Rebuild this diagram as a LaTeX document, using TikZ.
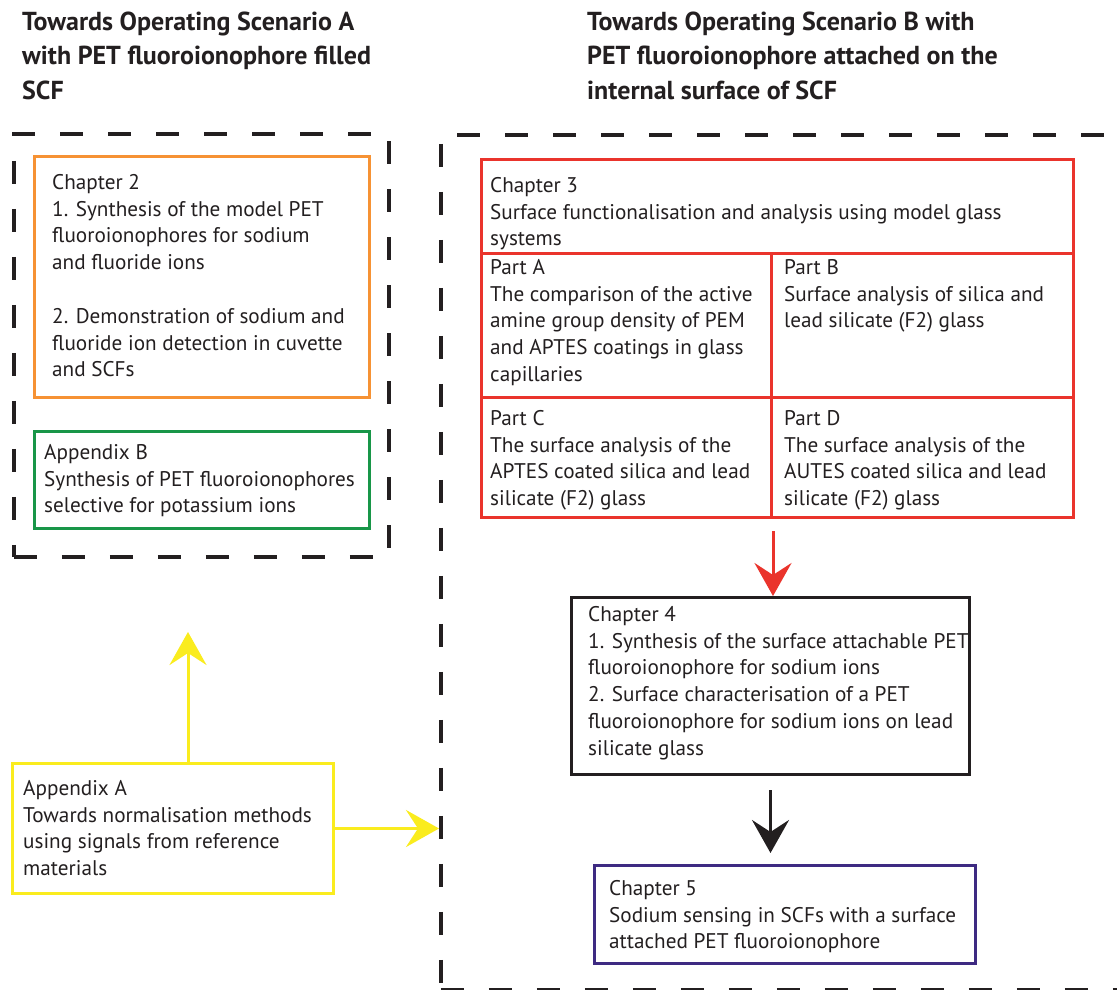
\documentclass[tikz,border=0pt]{standalone}
\usepackage{fontspec}
\setmainfont{PT Sans}
\usetikzlibrary{arrows.meta}
\definecolor{chorange}{RGB}{246,146,52}
\definecolor{chgreen}{RGB}{24,150,72}
\definecolor{chred}{RGB}{234,52,44}
\definecolor{chyellow}{RGB}{250,236,30}
\definecolor{chpurple}{RGB}{62,42,130}
\definecolor{ink}{RGB}{35,31,32}
\begin{document}
\begin{tikzpicture}[x=1pt, y=-1pt,
    frame/.style={draw=ink, line width=3.5pt, dash pattern=on 23pt off 25pt, anchor=north west, inner sep=0pt},
    box/.style={draw, line width=3pt, anchor=north west, inner sep=0pt},
    txt/.style={anchor=north west, yshift=16pt, align=left, inner sep=0pt, text=ink,
        font=\fontsize{21.2}{26.8}\selectfont, execute at begin node=\strut},
    head/.style={anchor=north west, yshift=21.5pt, align=left, inner sep=0pt, text=ink,
        font=\fontsize{26}{34.5}\selectfont\bfseries, execute at begin node=\strut},
    flow/.style={line width=3pt, -{Stealth[length=33pt, width=37pt, inset=12pt]}}
]
    \useasboundingbox[fill=white] (0,0) rectangle (1117,990);

    % Headings of the two scenarios
    \node[head] (headA) at (22,33) {Towards Operating Scenario A\\with PET fluoroionophore filled\\SCF};
    \node[head] (headB) at (587,33) {Towards Operating Scenario B with\\PET fluoroionophore attached on the\\internal surface of SCF};

    % Dashed frames
    \node[frame, minimum width=375pt, minimum height=423pt] (frameA) at (12,132) {};
    \node[frame, minimum width=720pt, minimum height=855pt] (frameB) at (439,133) {};

    % Scenario A
    \node[box, chorange, minimum width=335pt, minimum height=241pt] (ch2) at (33,155) {};
    \node[txt] (ch2txt) at (52,190) {Chapter 2\\1. Synthesis of the model PET\\fluoroionophores for sodium\\and fluoride ions\\[26.8pt]2. Demonstration of sodium and\\fluoride ion detection in cuvette\\and SCFs};
    \node[box, chgreen, minimum width=335pt, minimum height=97pt] (appB) at (33,430) {};
    \node[txt] (appBtxt) at (44,460) {Appendix B\\Synthesis of PET fluoroionophores\\selective for potassium ions};

    % Appendix A
    \node[box, chyellow, minimum width=321pt, minimum height=130pt] (appA) at (11,762) {};
    \node[txt] (appAtxt) at (23,796) {Appendix A\\Towards normalisation methods\\using signals from reference\\materials};
    \coordinate (upTip) at (188,632);

    % Scenario B: chapter 3 grid
    \node[box, chred, minimum width=592pt, minimum height=94pt] (ch3) at (480,158) {};
    \node[box, chred, minimum width=290pt, minimum height=144pt] (partA) at (480,252) {};
    \node[box, chred, minimum width=302pt, minimum height=144pt] (partB) at (770,252) {};
    \node[box, chred, minimum width=290pt, minimum height=120pt] (partC) at (480,396) {};
    \node[box, chred, minimum width=302pt, minimum height=120pt] (partD) at (770,396) {};
    \node[txt] (ch3txt) at (490,193) {Chapter 3\\Surface functionalisation and analysis using model glass\\systems};
    \node[txt] (partAtxt) at (490,275) {Part A\\The comparison of the active\\amine group density of PEM\\and APTES coatings in glass\\capillaries};
    \node[txt] (partBtxt) at (784,275) {Part B\\Surface analysis of silica and\\lead silicate (F2) glass};
    \node[txt] (partCtxt) at (490,426) {Part C\\The surface analysis of the\\APTES coated silica and lead\\silicate (F2) glass};
    \node[txt] (partDtxt) at (784,426) {Part D\\The surface analysis of the\\AUTES coated silica and lead\\silicate (F2) glass};

    % Chapters 4 and 5
    \node[box, ink, minimum width=398pt, minimum height=177pt] (ch4) at (570,596) {};
    \node[txt] (ch4txt) at (588,622) {Chapter 4\\1. Synthesis of the surface attachable PET\\fluoroionophore for sodium ions\\2. Surface characterisation of a PET\\fluoroionophore for sodium ions on lead\\silicate glass};
    \node[box, chpurple, minimum width=381pt, minimum height=98pt] (ch5) at (593,864) {};
    \node[txt] (ch5txt) at (609,896) {Chapter 5\\Sodium sensing in SCFs with a surface\\attached PET fluoroionophore};

    % Arrows
    \draw[flow, chred, shorten <=12pt] (partC.south east) -- (partC.south east |- ch4.north);
    \draw[flow, ink, shorten <=14pt, shorten >=11pt] (ch4.south) -- (ch4.south |- ch5.north);
    \draw[flow, chyellow] (appA.north -| upTip) -- (upTip);
    \draw[flow, chyellow] (appA.east) -- (appA.east -| frameB.west);
\end{tikzpicture}
\end{document}
